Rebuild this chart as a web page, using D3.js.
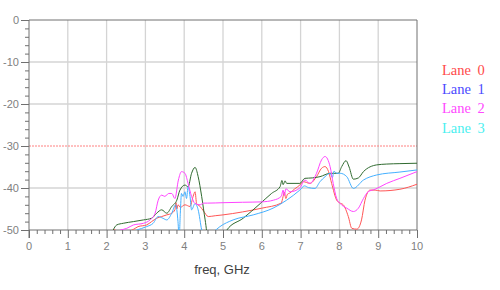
<script src="https://d3js.org/d3.v7.min.js"></script>
<body style="margin:0;background:#fff">
<script>
  // lane legend
  const laneNames = ["Lane 0", "Lane 1", "Lane 2", "Lane 3"];
  const laneColors = ["#ff4a4a", "#4a4aff", "#ff4aff", "#4af0f0"];

  // traces (freq in GHz, level in dB)
  const redFreq = [2.17,2.3,2.5,2.7,2.81,3.03,3.16,3.29,3.42,3.55,3.68,3.76,3.79,3.81,3.84,3.9,4.02,4.15,4.23,4.28,4.32,4.41,4.5,4.62,4.8,5.0,5.5,6.0,6.5,6.55,6.58,6.62,6.66,6.72,6.85,6.98,7.07,7.24,7.41,7.54,7.63,7.72,7.8,7.93,8.0,8.1,8.23,8.32,8.45,8.57,8.66,8.79,8.92,9.05,9.56,10];
  const redDb = [-49.8,-50.3,-50.5,-49.8,-49.2,-48.8,-48,-47.2,-46.8,-46.4,-46,-45.2,-43.5,-45,-44,-44.6,-44,-44.4,-42,-40.9,-43.7,-44.4,-45.5,-46.8,-46.6,-46.4,-45.7,-44.8,-43.6,-42,-41,-42.5,-41.5,-41.2,-40.2,-39.3,-38.5,-38.9,-37.3,-35.3,-34.9,-36.1,-38.9,-42.9,-43.5,-44,-46.8,-49.6,-49.8,-47.6,-42.9,-40.5,-40.5,-40.7,-40.3,-39.1];

  const pinkFreq = [2.35,2.52,2.69,2.95,3.12,3.25,3.33,3.42,3.5,3.6,3.68,3.76,3.85,3.93,4.02,4.1,4.19,4.28,4.41,4.5,4.6,5.0,5.5,6.0,6.3,6.5,6.55,6.58,6.62,6.73,6.98,7.11,7.24,7.41,7.54,7.63,7.76,7.84,7.93,8.02,8.19,8.36,8.49,8.62,8.74,8.92,9.22,9.56,10];
  const pinkDb = [-50,-49.6,-48.8,-48.4,-47.6,-46,-42.9,-41.7,-42,-41.3,-41.3,-42.5,-38.1,-36.1,-36.5,-38.9,-42,-43.7,-44,-43.6,-43.6,-43.5,-43.4,-43.3,-42.9,-42,-40.5,-41.8,-40.2,-40.9,-40,-38.1,-38.9,-36.5,-33.3,-32.5,-34.9,-38.9,-42.5,-43.7,-44.8,-45.6,-44.8,-42.5,-40.9,-40.3,-38.9,-37.7,-36.1];

  const greenFreq = [2.17,2.26,2.43,2.69,2.95,3.16,3.29,3.42,3.55,3.68,3.81,3.89,4.02,4.1,4.19,4.28,4.36,4.45,4.54,4.62,5.05,5.1,5.52,5.96,6.25,6.47,6.52,6.55,6.6,6.64,6.98,7.11,7.3,7.5,7.76,7.97,8.06,8.17,8.25,8.36,8.49,8.62,8.96,9.22,9.56,10];
  const greenDb = [-50,-48.8,-48.4,-48,-47.6,-47.2,-46,-45.2,-46,-44.4,-42.9,-40.5,-39.3,-39.7,-36.5,-35.1,-37.3,-42,-47.6,-52,-52,-50,-47.2,-43.7,-41.3,-39.7,-38.2,-39.2,-38.3,-38.9,-38.9,-37.7,-37.6,-37.3,-36.5,-36.5,-34.9,-33.5,-35,-37.9,-37.6,-36.1,-34.5,-34.3,-34.2,-34.1];

  const blueFreq = [2.77,3.03,3.2,3.33,3.45,3.55,3.68,3.78,3.84,3.87,3.9,3.93,3.97,4.02,4.06,4.1,4.15,4.19,4.28,4.36,4.45,4.5,4.75,4.92,5.26,5.78,6.29,6.64,6.98,7.1,7.2,7.37,7.5,7.63,7.76,7.82,7.86,7.93,8.02,8.19,8.36,8.62,8.96,9.56,10];
  const blueDb = [-50,-49.2,-48.4,-46.8,-47.2,-47.6,-46,-44,-48,-52,-46,-41.3,-42,-40.9,-42.5,-39.7,-42,-45.2,-43.7,-45.2,-50,-52,-50.5,-49.2,-47.6,-46.4,-44.8,-42.9,-40.5,-39.5,-39.9,-40.1,-38.5,-37.3,-36.5,-37.5,-36,-36.5,-36.5,-37.3,-40.1,-38.1,-36.9,-36.2,-35.7];

  const xTicks = [0,1,2,3,4,5,6,7,8,9,10];
  const yTicks = [0,-10,-20,-30,-40,-50];
  const limitDb = -30;

  const traces = [
    {freq: redFreq, db: redDb, color: "#ff5555"},
    {freq: greenFreq, db: greenDb, color: "#2f6a2f"},
    {freq: blueFreq, db: blueDb, color: "#44b0ff"},
    {freq: pinkFreq, db: pinkDb, color: "#ff44ff"}
  ];

  const svg = d3.select("body")
    .append("svg")
    .attr("width", 500)
    .attr("height", 290);

  const x = d3.scaleLinear().domain([0, 10]).range([29, 417]);
  const y = d3.scaleLinear().domain([-50, 0]).range([230, 20]);

  // grid
  svg.append("g")
    .selectAll("line")
    .data(xTicks.slice(1, -1))
    .join("line")
    .attr("x1", d => x(d)).attr("x2", d => x(d))
    .attr("y1", y(0)).attr("y2", y(-50))
    .attr("stroke", "#d4d4d4")
    .attr("stroke-width", 1.3);

  svg.append("g")
    .selectAll("line")
    .data(yTicks.filter(d => d != 0 && d != -50 && d != limitDb))
    .join("line")
    .attr("x1", x(0)).attr("x2", x(10))
    .attr("y1", d => y(d)).attr("y2", d => y(d))
    .attr("stroke", "#d4d4d4")
    .attr("stroke-width", 1.3);

  // limit line
  svg.append("line")
    .attr("x1", x(0)).attr("x2", x(10))
    .attr("y1", y(limitDb)).attr("y2", y(limitDb))
    .attr("stroke", "#ff8080")
    .attr("stroke-dasharray", "2,1");

  // frame top / right
  svg.append("path")
    .attr("d", `M${x(0)},${y(0)}H${x(10)}V${y(-50)}`)
    .attr("fill", "none")
    .attr("stroke", "#707070");

  // axes
  const yAxis = svg.append("g")
    .attr("transform", `translate(${x(0)},0)`)
    .call(d3.axisLeft(y).tickValues(d3.range(-50, 0.1, 2)).tickSize(4).tickFormat(""));
  yAxis.call(g => g.selectAll(".tick line").filter(d => d % 10 == 0).attr("x2", -8));
  yAxis.select(".domain").remove();

  const xAxis = svg.append("g")
    .attr("transform", `translate(0,${y(-50)})`)
    .call(d3.axisBottom(x).tickValues(d3.range(0, 10.01, 0.2)).tickSize(4).tickFormat(""));
  xAxis.call(g => g.selectAll(".tick line").filter(d => Math.abs(d - Math.round(d)) < 0.01).attr("y2", 8));
  xAxis.select(".domain").remove();

  svg.selectAll(".tick line").attr("stroke", "#707070");

  svg.append("line")
    .attr("x1", x(0)).attr("x2", x(0))
    .attr("y1", y(0)).attr("y2", y(-50) + 8)
    .attr("stroke", "#707070");
  svg.append("line")
    .attr("x1", x(0)).attr("x2", x(10))
    .attr("y1", y(-50)).attr("y2", y(-50))
    .attr("stroke", "#707070");

  // tick labels
  svg.append("g")
    .selectAll("text")
    .data(yTicks)
    .join("text")
    .attr("x", 19)
    .attr("y", d => y(d) + 4)
    .attr("text-anchor", "end")
    .attr("font-family", "Liberation Sans, Arial, sans-serif")
    .attr("font-size", 11)
    .attr("fill", "#808080")
    .text(d => d);

  svg.append("g")
    .selectAll("text")
    .data(xTicks)
    .join("text")
    .attr("x", d => x(d))
    .attr("y", 250)
    .attr("text-anchor", "middle")
    .attr("font-family", "Liberation Sans, Arial, sans-serif")
    .attr("font-size", 11)
    .attr("fill", "#808080")
    .text(d => d);

  svg.append("text")
    .attr("x", 222)
    .attr("y", 274)
    .attr("text-anchor", "middle")
    .attr("font-family", "Liberation Sans, Arial, sans-serif")
    .attr("font-size", 13)
    .attr("fill", "#404040")
    .text("freq, GHz");

  // traces
  svg.append("clipPath")
    .attr("id", "plot-clip")
    .append("rect")
    .attr("x", x(0)).attr("y", y(0))
    .attr("width", x(10) - x(0)).attr("height", y(-50) - y(0));

  const line = d3.line()
    .x(d => x(d[0]))
    .y(d => y(d[1]))
    .curve(d3.curveMonotoneX);

  svg.append("g")
    .attr("clip-path", "url(#plot-clip)")
    .selectAll("path")
    .data(traces)
    .join("path")
    .attr("d", t => line(t.freq.map((f, i) => [f, t.db[i]])))
    .attr("fill", "none")
    .attr("stroke", t => t.color)
    .attr("stroke-width", 1);

  // legend
  svg.append("g")
    .selectAll("text")
    .data(laneNames)
    .join("text")
    .attr("x", 442)
    .attr("y", (d, i) => 75 + i * 19.2)
    .attr("font-family", "Liberation Serif, Times New Roman, serif")
    .attr("font-size", 14.5)
    .attr("fill", (d, i) => laneColors[i])
    .attr("word-spacing", 3)
    .text(d => d);
</script>
</body>
